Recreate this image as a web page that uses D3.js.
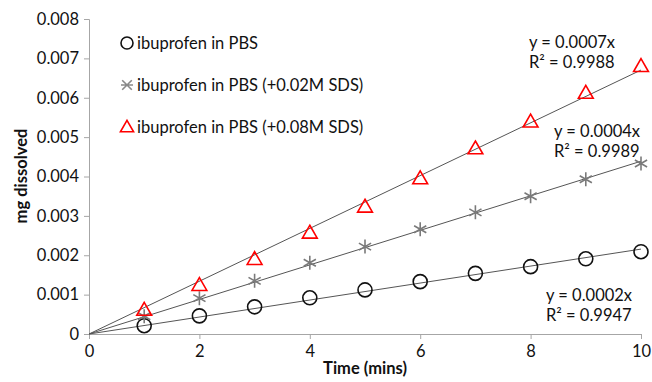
<!DOCTYPE html>
<html><head><meta charset="utf-8">
<script src="https://cdn.jsdelivr.net/npm/d3@7"></script>
<style>body{margin:0;background:#fff}svg{display:block}</style>
</head><body>
<svg id="c" width="652" height="382"></svg>
<script>
const times = [1,2,3,4,5,6,7,8,9,10];
const pbs = [0.00021,0.00046,0.00069,0.00092,0.00112,0.00133,0.00154,0.00171,0.00191,0.00209];
const sds02 = [0.00045,0.00091,0.00135,0.00181,0.00222,0.00266,0.00309,0.0035,0.00393,0.00433];
const sds08 = [0.00061,0.00124,0.0019,0.00257,0.00323,0.00395,0.00471,0.00539,0.00612,0.0068];
const seriesNames = ["ibuprofen in PBS","ibuprofen in PBS (+0.02M SDS)","ibuprofen in PBS (+0.08M SDS)"];
const eqLabels = [["y = 0.0002x","R² = 0.9947"],["y = 0.0004x","R² = 0.9989"],["y = 0.0007x","R² = 0.9988"]];
const xTicks = [0,2,4,6,8,10];
const yTicks = [0,0.001,0.002,0.003,0.004,0.005,0.006,0.007,0.008];

const svg = d3.select("#c");
const font = "Lato, 'Open Sans', sans-serif";
const fs = 16.5;
const x = d3.scaleLinear().domain([0,10]).range([89,641]);
const y = d3.scaleLinear().domain([0,0.008]).range([334,19]);
const axisCol = "#a6a6a6";

// axes
const ya = svg.append("g").attr("transform","translate(89,0)")
  .call(d3.axisLeft(y).tickValues(yTicks).tickSize(5).tickPadding(5)
  .tickFormat(d => d===0 ? "0" : d3.format(".3f")(d)));
const xa = svg.append("g").attr("transform","translate(0,334)")
  .call(d3.axisBottom(x).tickValues(xTicks).tickSize(5).tickPadding(6));
[ya,xa].forEach(a=>{
  a.selectAll("path,line").attr("stroke",axisCol);
  a.selectAll("text").attr("font-family",font).attr("font-size",fs).attr("fill","#111");
});

// trend lines (least squares through origin)
const allSeries = [pbs,sds02,sds08];
allSeries.forEach(vals=>{
  const s = d3.sum(vals.map((v,i)=>v*times[i]))/d3.sum(times.map(t=>t*t));
  svg.append("line").attr("x1",x(0)).attr("y1",y(0)).attr("x2",x(10)).attr("y2",y(s*10))
    .attr("stroke","#555").attr("stroke-width",1);
});

const tri = d3.symbol().type(d3.symbolTriangle).size(95)();
function drawMarker(g,k){
  if(k===0){
    g.append("circle").attr("r",7).attr("fill","none").attr("stroke","#111").attr("stroke-width",1.6);
  } else if(k===1){
    const r=7;
    g.append("path").attr("d",`M0,${-r}V${r}M${-r*0.87},${-r*0.5}L${r*0.87},${r*0.5}M${-r*0.87},${r*0.5}L${r*0.87},${-r*0.5}`)
      .attr("stroke","#7a7a7a").attr("stroke-width",1.6).attr("fill","none");
  } else {
    g.append("path").attr("d",tri).attr("transform","translate(0,1)").attr("fill","none").attr("stroke","#ff0000").attr("stroke-width",1.6);
  }
}
allSeries.forEach((vals,k)=>{
  vals.forEach((v,i)=>{
    const g = svg.append("g").attr("transform",`translate(${x(times[i])},${y(v)})`);
    drawMarker(g,k);
  });
});

// legend
const legY = [43,85,127];
seriesNames.forEach((n,k)=>{
  const g = svg.append("g").attr("transform",`translate(127,${legY[k]})`);
  if(k===0){
    g.append("circle").attr("r",6).attr("fill","none").attr("stroke","#111").attr("stroke-width",1.6);
  } else if(k===1){
    const r=6;
    g.append("path").attr("d",`M${-r*0.8},${-r*0.8}L${r*0.8},${r*0.8}M${-r*0.8},${r*0.8}L${r*0.8},${-r*0.8}M${-r},0H${r}`)
      .attr("stroke","#8a8a8a").attr("stroke-width",1.6);
  } else {
    g.append("path").attr("d",d3.symbol().type(d3.symbolTriangle).size(75)()).attr("transform","translate(0,1)")
      .attr("fill","none").attr("stroke","#ff0000").attr("stroke-width",1.6);
  }
  svg.append("text").attr("x",137).attr("y",legY[k]).attr("dy","0.35em")
    .attr("font-family",font).attr("font-size",fs).attr("fill","#111").text(n);
});

// equation labels
const eqPos = [[546,295],[554,131],[529,42]];
eqLabels.forEach((lab,k)=>{
  lab.forEach((t,j)=>{
    svg.append("text").attr("x",eqPos[k][0]).attr("y",eqPos[k][1]+j*20).attr("dy","0.35em")
      .attr("font-family",font).attr("font-size",fs).attr("fill","#111").text(t);
  });
});

// axis titles
svg.append("text").attr("x",365).attr("y",374).attr("text-anchor","middle")
  .attr("font-family",font).attr("font-weight","bold").attr("font-size",fs).attr("fill","#111").text("Time (mins)");
svg.append("text").attr("transform","translate(21,176) rotate(-90)").attr("text-anchor","middle").attr("dy","0.35em")
  .attr("font-family",font).attr("font-weight","bold").attr("font-size",fs).attr("fill","#111").text("mg dissolved");
</script>
</body></html>
